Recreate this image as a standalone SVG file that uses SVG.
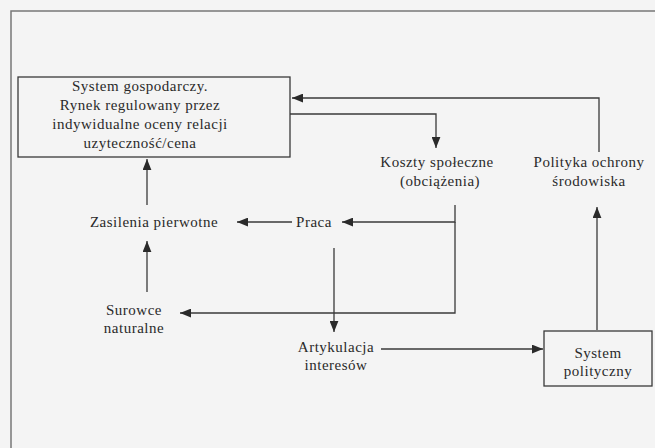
<svg xmlns="http://www.w3.org/2000/svg" width="655" height="448" viewBox="0 0 655 448">
<defs>
<marker id="ah" viewBox="0 0 10 8" refX="10" refY="4" markerWidth="11" markerHeight="9" markerUnits="userSpaceOnUse" orient="auto">
<path d="M0,0 L10,4 L0,8 Z" fill="#2a2a2a"/>
</marker>
</defs>
<style>
text{font-family:"Liberation Serif","DejaVu Serif","Times New Roman",serif;font-size:15px;letter-spacing:0.5px;fill:#2a2a2a;text-anchor:middle}
.box{fill:none;stroke:#3a3a3a;stroke-width:1.3}
.ln{fill:none;stroke:#3a3a3a;stroke-width:1.3}
.frame{fill:none;stroke:#777;stroke-width:1.5}
</style>
<rect x="0" y="0" width="655" height="448" fill="#f4f4f4"/>
<path class="frame" d="M11,448 V11 H655"/>
<g id="connectors">
<path class="ln" d="M599,152 V98 H292" marker-end="url(#ah)"/>
<path class="ln" d="M290,114 H436 V148" marker-end="url(#ah)"/>
<path class="ln" d="M455,205 V222 H342" marker-end="url(#ah)"/>
<path class="ln" d="M455,222 V313 H180" marker-end="url(#ah)"/>
<path class="ln" d="M292,222 H237" marker-end="url(#ah)"/>
<path class="ln" d="M147,205 V159" marker-end="url(#ah)"/>
<path class="ln" d="M147,292 V241" marker-end="url(#ah)"/>
<path class="ln" d="M334,248 V332" marker-end="url(#ah)"/>
<path class="ln" d="M381,349 H543" marker-end="url(#ah)"/>
<path class="ln" d="M597,330 V207" marker-end="url(#ah)"/>
</g>
<g id="system-gospodarczy">
<rect class="box" x="18" y="77" width="272" height="80"/>
<text x="140" y="91">System gospodarczy.</text>
<text x="140" y="110">Rynek regulowany przez</text>
<text x="140" y="129">indywidualne oceny relacji</text>
<text x="140" y="148">uzyteczność/cena</text>
</g>
<g id="koszty">
<text x="437" y="167">Koszty społeczne</text>
<text x="440" y="186">(obciążenia)</text>
</g>
<g id="polityka">
<text x="589" y="167">Polityka ochrony</text>
<text x="589" y="186">środowiska</text>
</g>
<g id="zasilenia">
<text x="154" y="227">Zasilenia pierwotne</text>
</g>
<g id="praca">
<text x="314" y="227">Praca</text>
</g>
<g id="surowce">
<text x="134" y="315">Surowce</text>
<text x="134" y="333">naturalne</text>
</g>
<g id="artykulacja">
<text x="336" y="352">Artykulacja</text>
<text x="336" y="370">interesów</text>
</g>
<g id="system-polityczny">
<rect class="box" x="544" y="331" width="108" height="55"/>
<text x="598" y="358">System</text>
<text x="598" y="376">polityczny</text>
</g>
</svg>
